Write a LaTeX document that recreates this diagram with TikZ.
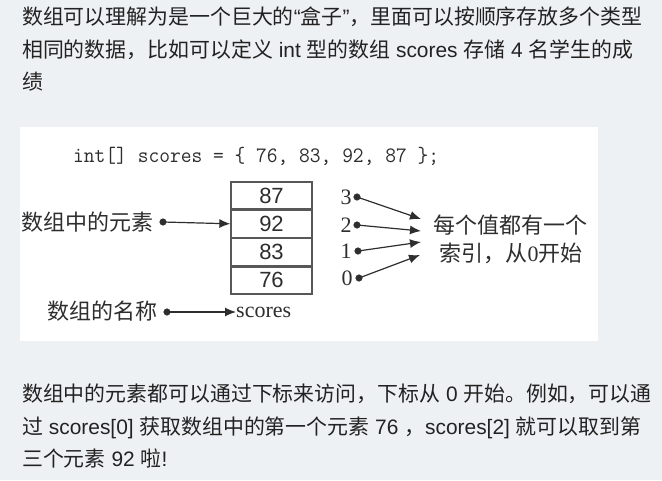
\documentclass[tikz,border=0pt]{standalone}
\usepackage{fontspec}
\setmainfont{Liberation Sans}
\newfontfamily\cjk{Noto Sans CJK SC}
\newfontfamily\bookserif{Liberation Serif}
\usetikzlibrary{arrows.meta,positioning}

\definecolor{pagebg}{HTML}{EEF1F3}
\definecolor{ink}{HTML}{222222}
\definecolor{figink}{HTML}{2E2E2E}

\newcommand\zh[1]{{\cjk #1}}

\tikzset{
  para/.style={anchor=base west, inner sep=0pt, text=ink,
    font=\fontsize{20.9}{25}\selectfont},
  cell/.style={draw=figink!80, line width=1.3pt, minimum width=81pt,
    minimum height=27pt, inner sep=0pt, text=figink,
    font=\fontsize{22}{24}\selectfont},
  label/.style={inner sep=0pt, text=figink, font=\fontsize{22}{26}\selectfont},
  pointer/.style={figink, line width=1.2pt, -{Latex[length=11pt,width=9pt]}},
}

\begin{document}
\begin{tikzpicture}[x=1pt, y=-1pt]
    \useasboundingbox (0,0) rectangle (662,480);
    \fill[pagebg] (0,0) rectangle (662,480);
    \fill[white] (20,127) rectangle (598,341);

    % text above the figure
    \node[para] (top1) at (22,24.5) {\zh{数组可以理解为是一个巨大的}“\zh{盒子}”\zh{，里面可以按顺序存放多个类型}};
    \node[para] (top2) at (22,57) {\zh{相同的数据，比如可以定义} int \zh{型的数组} scores \zh{存储} 4 \zh{名学生的成}};
    \node[para] (top3) at (22,89.5) {\zh{绩}};

    % the figure
    \node[anchor=west, inner sep=0pt, text=figink, xscale=0.95,
      font=\ttfamily\fontsize{22}{26}\selectfont] (code) at (73,156)
      {int[] scores = \{ 76, 83, 92, 87 \};};

    \node[cell] (c3) at (271.5,195.5) {87};
    \node[cell, below=0pt of c3] (c2) {92};
    \node[cell, below=0pt of c2] (c1) {83};
    \node[cell, below=0pt of c1] (c0) {76};

    \node[label, anchor=east] (elem) at (154,222) {\zh{数组中的元素}};
    \coordinate (elemdot) at (163,222);
    \draw[pointer] (elemdot) -- (c2.west);
    \filldraw[figink] (elemdot) circle (3.3pt);

    \node[label, anchor=east] (name) at (158,311) {\zh{数组的名称}};
    \coordinate (namedot) at (167,312);
    \node[label, anchor=west, font=\bookserif\fontsize{22}{26}\selectfont] (scores) at (236,312) {scores};
    \draw[pointer] (namedot) -- (scores.west);
    \filldraw[figink] (namedot) circle (3.3pt);

    \node[label, font=\bookserif\fontsize{22}{26}\selectfont] (i3) at (346,197) {3};
    \node[label, font=\bookserif\fontsize{22}{26}\selectfont] (i2) at (346,225) {2};
    \node[label, font=\bookserif\fontsize{22}{26}\selectfont] (i1) at (346,251) {1};
    \node[label, font=\bookserif\fontsize{22}{26}\selectfont] (i0) at (347,278) {0};
    \coordinate (d3) at (357,197);
    \coordinate (d2) at (357,225);
    \coordinate (d1) at (358,251);
    \coordinate (d0) at (359,278);
    \coordinate (t3) at (421,219);
    \coordinate (t2) at (421,231);
    \coordinate (t1) at (421,242);
    \coordinate (t0) at (420,255);
    \foreach \k in {0,...,3} {
      \draw[pointer] (d\k) -- (t\k);
      \filldraw[figink] (d\k) circle (3.3pt);
    }

    \node[label] (note1) at (510.5,225) {\zh{每个值都有一个}};
    \node[label] (note2) at (511,253) {\zh{索引，从}{\bookserif 0}\zh{开始}};

    % text below the figure
    \node[para] (bot1) at (22,401.5) {\zh{数组中的元素都可以通过下标来访问，下标从} 0 \zh{开始。例如，可以通}};
    \node[para] (bot2) at (22,434) {\zh{过} scores[0] \zh{获取数组中的第一个元素} 76 \zh{，}scores[2] \zh{就可以取到第}};
    \node[para] (bot3) at (22,466.5) {\zh{三个元素} 92 \zh{啦}!};
\end{tikzpicture}
\end{document}
